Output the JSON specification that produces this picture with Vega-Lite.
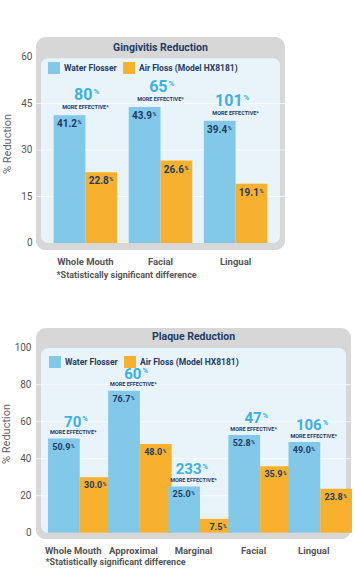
{
  "$schema": "https://vega.github.io/schema/vega-lite/v6.json",
  "padding": {"left": 0, "top": 37, "right": 0, "bottom": 0},
  "spacing": 48,
  "config": {
    "font": "Roboto",
    "view": {"fill": "#d7d7d7", "cornerRadius": 10, "stroke": null},
    "legend": {
      "symbolType": "square", "symbolSize": 144, "symbolStrokeWidth": 0, "symbolOpacity": 1,
      "labelFont": "Roboto", "labelFontWeight": "bold", "labelFontSize": 8.5, "labelColor": "#1f3b66",
      "columnPadding": 6, "labelOffset": 4, "direction": "horizontal", "orient": "none"
    },
    "axisY": {"domain": false, "ticks": false, "grid": false, "labelFont": "Roboto", "labelFontSize": 10, "labelColor": "#555555",
      "titleFont": "Roboto", "titleFontWeight": "normal", "titleFontSize": 11, "titleColor": "#666666"},
    "axisX": {"domain": false, "ticks": false, "grid": false, "labelFont": "Roboto", "labelFontWeight": "bold", "labelFontSize": 9.5, "labelColor": "#555555",
      "titleFont": "Roboto", "titleFontWeight": "bold", "titleFontSize": 9, "titleColor": "#555555", "titleAlign": "left", "titleAnchor": "start", "labelAngle": 0}
  },
  "resolve": {"legend": {"color": "independent"}},
  "datasets": {
    "gingivitis": [
      {"area": "Whole Mouth", "device": "Water Flosser", "pct": 41.2, "more": "80"},
      {"area": "Whole Mouth", "device": "Air Floss (Model HX8181)", "pct": 22.8},
      {"area": "Facial", "device": "Water Flosser", "pct": 43.9, "more": "65"},
      {"area": "Facial", "device": "Air Floss (Model HX8181)", "pct": 26.6},
      {"area": "Lingual", "device": "Water Flosser", "pct": 39.4, "more": "101"},
      {"area": "Lingual", "device": "Air Floss (Model HX8181)", "pct": 19.1}
    ],
    "plaque": [
      {"area": "Whole Mouth", "device": "Water Flosser", "pct": 50.9, "more": "70"},
      {"area": "Whole Mouth", "device": "Air Floss (Model HX8181)", "pct": 30.0},
      {"area": "Approximal", "device": "Water Flosser", "pct": 76.7, "more": "60"},
      {"area": "Approximal", "device": "Air Floss (Model HX8181)", "pct": 48.0},
      {"area": "Marginal", "device": "Water Flosser", "pct": 25.0, "more": "233"},
      {"area": "Marginal", "device": "Air Floss (Model HX8181)", "pct": 7.5},
      {"area": "Facial", "device": "Water Flosser", "pct": 52.8, "more": "47"},
      {"area": "Facial", "device": "Air Floss (Model HX8181)", "pct": 35.9},
      {"area": "Lingual", "device": "Water Flosser", "pct": 49.0, "more": "106"},
      {"area": "Lingual", "device": "Air Floss (Model HX8181)", "pct": 23.8}
    ],
    "gingGrid": [{"g": 15}, {"g": 30}, {"g": 45}],
    "plaqueGrid": [{"g": 20}, {"g": 40}, {"g": 60}, {"g": 80}],
    "one": [{"panel": 1}]
  },
  "vconcat": [
    {
      "width": 249,
      "height": 213,
      "title": {"text": "Gingivitis Reduction", "frame": "group", "anchor": "middle", "offset": -16, "fontSize": 10.5, "font": "Roboto", "fontWeight": "bold", "color": "#1f3b66"},
      "layer": [
        {
          "data": {"name": "one"},
          "mark": {"type": "rect", "fill": "#e8f4fa", "stroke": "#d7d7d7", "strokeWidth": 10, "cornerRadius": 12, "clip": true},
          "encoding": {
            "y": {"datum": 61.2, "type": "quantitative", "scale": {"domain": [-2.26, 66.45], "nice": false, "zero": false}},
            "y2": {"datum": -1.6}
          }
        },
        {
          "data": {"name": "gingGrid"},
          "mark": {"type": "rule", "color": "#ffffff", "strokeWidth": 1, "opacity": 0.7},
          "encoding": {
            "y": {"field": "g", "type": "quantitative", "scale": {"domain": [-2.26, 66.45], "nice": false, "zero": false}}
          }
        },
        {
          "data": {"name": "gingivitis"},
          "mark": {"type": "bar"},
          "encoding": {
            "x": {"field": "area", "type": "nominal", "scale": {"domain": ["Whole Mouth", "Facial", "Lingual"], "paddingInner": 0.154, "paddingOuter": 0.235},
              "axis": {"title": "*Statistically significant difference", "labelPadding": 6, "titlePadding": 5, "titleX": 20}},
            "xOffset": {"field": "device", "type": "nominal", "scale": {"domain": ["Water Flosser", "Air Floss (Model HX8181)"]}},
            "y": {"field": "pct", "type": "quantitative", "scale": {"domain": [-2.26, 66.45], "nice": false, "zero": false},
              "axis": {"title": "% Reduction", "values": [0, 15, 30, 45, 60], "labelPadding": 4, "titlePadding": 8}},
            "color": {"field": "device", "type": "nominal", "scale": {"domain": ["Water Flosser", "Air Floss (Model HX8181)"], "range": ["#82c8e8", "#f8b02f"]},
              "legend": {"title": null, "orient": "none", "legendX": 12, "legendY": 25, "direction": "horizontal"}}
          }
        },
        {
          "data": {"name": "gingivitis"},
          "mark": {"type": "text", "align": "right", "baseline": "top", "dx": 7.5, "dy": 4, "fontSize": 10, "fontWeight": "bold", "color": "#1f3b66"},
          "encoding": {
            "x": {"field": "area", "type": "nominal", "scale": {"domain": ["Whole Mouth", "Facial", "Lingual"], "paddingInner": 0.154, "paddingOuter": 0.235}},
            "xOffset": {"field": "device", "type": "nominal", "scale": {"domain": ["Water Flosser", "Air Floss (Model HX8181)"]}},
            "y": {"field": "pct", "type": "quantitative", "scale": {"domain": [-2.26, 66.45], "nice": false, "zero": false}},
            "text": {"field": "pct", "type": "quantitative", "format": ".1f"}
          }
        },
        {
          "data": {"name": "gingivitis"},
          "mark": {"type": "text", "align": "left", "baseline": "top", "dx": 8, "dy": 5, "fontSize": 5.5, "fontWeight": "bold", "color": "#1f3b66", "text": "%"},
          "encoding": {
            "x": {"field": "area", "type": "nominal", "scale": {"domain": ["Whole Mouth", "Facial", "Lingual"], "paddingInner": 0.154, "paddingOuter": 0.235}},
            "xOffset": {"field": "device", "type": "nominal", "scale": {"domain": ["Water Flosser", "Air Floss (Model HX8181)"]}},
            "y": {"field": "pct", "type": "quantitative", "scale": {"domain": [-2.26, 66.45], "nice": false, "zero": false}}
          }
        },
        {
          "data": {"name": "gingivitis"},
          "transform": [{"filter": "datum.device === 'Water Flosser'"}],
          "mark": {"type": "text", "align": "right", "baseline": "alphabetic", "dx": 7, "dy": -15, "fontSize": 16, "fontWeight": "bold", "color": "#3cb0e3"},
          "encoding": {
            "x": {"field": "area", "type": "nominal", "scale": {"domain": ["Whole Mouth", "Facial", "Lingual"], "paddingInner": 0.154, "paddingOuter": 0.235}},
            "y": {"field": "pct", "type": "quantitative", "scale": {"domain": [-2.26, 66.45], "nice": false, "zero": false}},
            "text": {"field": "more", "type": "nominal"}
          }
        },
        {
          "data": {"name": "gingivitis"},
          "transform": [{"filter": "datum.device === 'Water Flosser'"}],
          "mark": {"type": "text", "align": "left", "baseline": "alphabetic", "dx": 8, "dy": -21, "fontSize": 8, "fontWeight": "bold", "color": "#3cb0e3", "text": "%"},
          "encoding": {
            "x": {"field": "area", "type": "nominal", "scale": {"domain": ["Whole Mouth", "Facial", "Lingual"], "paddingInner": 0.154, "paddingOuter": 0.235}},
            "y": {"field": "pct", "type": "quantitative", "scale": {"domain": [-2.26, 66.45], "nice": false, "zero": false}}
          }
        },
        {
          "data": {"name": "gingivitis"},
          "transform": [{"filter": "datum.device === 'Water Flosser'"}],
          "mark": {"type": "text", "align": "center", "baseline": "alphabetic", "dy": -6, "fontSize": 5.5, "fontWeight": "bold", "color": "#1f3b66", "text": "MORE EFFECTIVE*"},
          "encoding": {
            "x": {"field": "area", "type": "nominal", "scale": {"domain": ["Whole Mouth", "Facial", "Lingual"], "paddingInner": 0.154, "paddingOuter": 0.235}},
            "y": {"field": "pct", "type": "quantitative", "scale": {"domain": [-2.26, 66.45], "nice": false, "zero": false}}
          }
        }
      ]
    },
    {
      "width": 315,
      "height": 211,
      "title": {"text": "Plaque Reduction", "frame": "group", "anchor": "middle", "offset": -14, "fontSize": 10.5, "font": "Roboto", "fontWeight": "bold", "color": "#1f3b66"},
      "layer": [
        {
          "data": {"name": "one"},
          "mark": {"type": "rect", "fill": "#e8f4fa", "stroke": "#d7d7d7", "strokeWidth": 10, "cornerRadius": 12, "clip": true},
          "encoding": {
            "y": {"datum": 102.5, "type": "quantitative", "scale": {"domain": [-3.4, 110.65], "nice": false, "zero": false}},
            "y2": {"datum": -2.7}
          }
        },
        {
          "data": {"name": "plaqueGrid"},
          "mark": {"type": "rule", "color": "#ffffff", "strokeWidth": 1, "opacity": 0.7},
          "encoding": {
            "y": {"field": "g", "type": "quantitative", "scale": {"domain": [-3.4, 110.65], "nice": false, "zero": false}}
          }
        },
        {
          "data": {"name": "plaque"},
          "mark": {"type": "bar"},
          "encoding": {
            "x": {"field": "area", "type": "nominal", "scale": {"domain": ["Whole Mouth", "Approximal", "Marginal", "Facial", "Lingual"], "paddingInner": 0.16, "paddingOuter": 0.2},
              "axis": {"title": "*Statistically significant difference", "labelPadding": 6, "titlePadding": 3, "titleX": 9}},
            "xOffset": {"field": "device", "type": "nominal", "scale": {"domain": ["Water Flosser", "Air Floss (Model HX8181)"]}},
            "y": {"field": "pct", "type": "quantitative", "scale": {"domain": [-3.4, 110.65], "nice": false, "zero": false},
              "axis": {"title": "% Reduction", "values": [0, 20, 40, 60, 80, 100], "labelPadding": 5, "titlePadding": 3}},
            "color": {"field": "device", "type": "nominal", "scale": {"domain": ["Water Flosser", "Air Floss (Model HX8181)"], "range": ["#82c8e8", "#f8b02f"]},
              "legend": {"title": null, "orient": "none", "legendX": 13, "legendY": 28, "direction": "horizontal"}}
          }
        },
        {
          "data": {"name": "plaque"},
          "mark": {"type": "text", "align": "right", "baseline": "top", "dx": 6.5, "dy": 4, "fontSize": 9, "fontWeight": "bold", "color": "#1f3b66"},
          "encoding": {
            "x": {"field": "area", "type": "nominal", "scale": {"domain": ["Whole Mouth", "Approximal", "Marginal", "Facial", "Lingual"], "paddingInner": 0.16, "paddingOuter": 0.2}},
            "xOffset": {"field": "device", "type": "nominal", "scale": {"domain": ["Water Flosser", "Air Floss (Model HX8181)"]}},
            "y": {"field": "pct", "type": "quantitative", "scale": {"domain": [-3.4, 110.65], "nice": false, "zero": false}},
            "text": {"field": "pct", "type": "quantitative", "format": ".1f"}
          }
        },
        {
          "data": {"name": "plaque"},
          "mark": {"type": "text", "align": "left", "baseline": "top", "dx": 7, "dy": 5, "fontSize": 5, "fontWeight": "bold", "color": "#1f3b66", "text": "%"},
          "encoding": {
            "x": {"field": "area", "type": "nominal", "scale": {"domain": ["Whole Mouth", "Approximal", "Marginal", "Facial", "Lingual"], "paddingInner": 0.16, "paddingOuter": 0.2}},
            "xOffset": {"field": "device", "type": "nominal", "scale": {"domain": ["Water Flosser", "Air Floss (Model HX8181)"]}},
            "y": {"field": "pct", "type": "quantitative", "scale": {"domain": [-3.4, 110.65], "nice": false, "zero": false}}
          }
        },
        {
          "data": {"name": "plaque"},
          "transform": [{"filter": "datum.device === 'Water Flosser'"}],
          "mark": {"type": "text", "align": "right", "baseline": "alphabetic", "dx": 8, "dy": -12, "fontSize": 15, "fontWeight": "bold", "color": "#3cb0e3"},
          "encoding": {
            "x": {"field": "area", "type": "nominal", "scale": {"domain": ["Whole Mouth", "Approximal", "Marginal", "Facial", "Lingual"], "paddingInner": 0.16, "paddingOuter": 0.2}},
            "y": {"field": "pct", "type": "quantitative", "scale": {"domain": [-3.4, 110.65], "nice": false, "zero": false}},
            "text": {"field": "more", "type": "nominal"}
          }
        },
        {
          "data": {"name": "plaque"},
          "transform": [{"filter": "datum.device === 'Water Flosser'"}],
          "mark": {"type": "text", "align": "left", "baseline": "alphabetic", "dx": 9, "dy": -17.5, "fontSize": 7.5, "fontWeight": "bold", "color": "#3cb0e3", "text": "%"},
          "encoding": {
            "x": {"field": "area", "type": "nominal", "scale": {"domain": ["Whole Mouth", "Approximal", "Marginal", "Facial", "Lingual"], "paddingInner": 0.16, "paddingOuter": 0.2}},
            "y": {"field": "pct", "type": "quantitative", "scale": {"domain": [-3.4, 110.65], "nice": false, "zero": false}}
          }
        },
        {
          "data": {"name": "plaque"},
          "transform": [{"filter": "datum.device === 'Water Flosser'"}],
          "mark": {"type": "text", "align": "center", "baseline": "alphabetic", "dy": -4.5, "fontSize": 5.5, "fontWeight": "bold", "color": "#1f3b66", "text": "MORE EFFECTIVE*"},
          "encoding": {
            "x": {"field": "area", "type": "nominal", "scale": {"domain": ["Whole Mouth", "Approximal", "Marginal", "Facial", "Lingual"], "paddingInner": 0.16, "paddingOuter": 0.2}},
            "y": {"field": "pct", "type": "quantitative", "scale": {"domain": [-3.4, 110.65], "nice": false, "zero": false}}
          }
        }
      ]
    }
  ]
}
